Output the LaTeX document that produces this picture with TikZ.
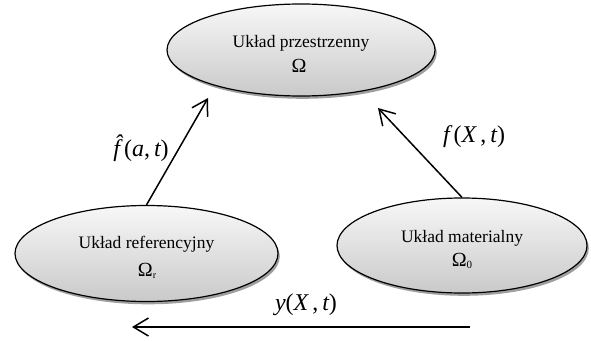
\documentclass[tikz,border=0pt]{standalone}
\usepackage{fontspec}
\setmainfont{Liberation Serif}
\usetikzlibrary{shapes.geometric,shadows,arrows.meta}
\begin{document}
\begin{tikzpicture}[x=1pt,y=-1pt,
  oval/.style={ellipse, draw=black, line width=1.2pt, inner sep=0pt,
    top color=gray!6, bottom color=gray!42,
    drop shadow={shadow xshift=1.8pt, shadow yshift=-2.8pt, fill=gray!75, opacity=1}},
  txt/.style={font=\fontsize{17.5}{20}\selectfont, inner sep=0pt},
  om/.style={font=\fontsize{20}{22}\selectfont, inner sep=0pt},
  lbl/.style={font=\fontsize{24}{26}\selectfont\itshape, inner sep=0pt},
  arr/.style={line width=1.5pt, -{Straight Barb[length=15pt, width=18pt, line width=1.5pt]}}]
\useasboundingbox (0,0) rectangle (591,340);
% ellipses
\node[oval, minimum width=268pt, minimum height=92pt] (top) at (301,50) {};
\node[oval, minimum width=263pt, minimum height=96pt] (ll) at (146.5,253.5) {};
\node[oval, minimum width=250pt, minimum height=95pt] (lr) at (462,245.5) {};
% texts
\node[txt] (topA) at (301,43) {Układ przestrzenny};
\node[om] (topB) at (299,66) {Ω};
\node[txt] (llA) at (146.5,244) {Układ referencyjny};
\node[om] (llB) at (147,271) {Ω\raisebox{-2pt}{\fontsize{10}{10}\selectfont r}};
\node[txt] (lrA) at (462,238) {Układ materialny};
\node[om] (lrB) at (462,261) {Ω\raisebox{-2pt}{\fontsize{11}{11}\selectfont 0}};
% arrow ends
\coordinate (t1) at (208,98);
\coordinate (t2) at (378,108);
\coordinate (b1) at (470,327);
\coordinate (b2) at (132,327);
\draw[arr] (ll.north) -- (t1);
\draw[arr] (lr.north) -- (t2);
\draw[arr] (b1) -- (b2);
% labels
\node[lbl] (fh) at (141,148) {\^{f}\,\upshape(\itshape a\upshape,\,\itshape t\upshape)};
\node[lbl] (f) at (474,137) {f\,\upshape(\itshape X\,\upshape,\,\itshape t\upshape)};
\node[lbl] (y) at (306,305) {y\upshape(\itshape X\,\upshape,\,\itshape t\upshape)};
\end{tikzpicture}
\end{document}
